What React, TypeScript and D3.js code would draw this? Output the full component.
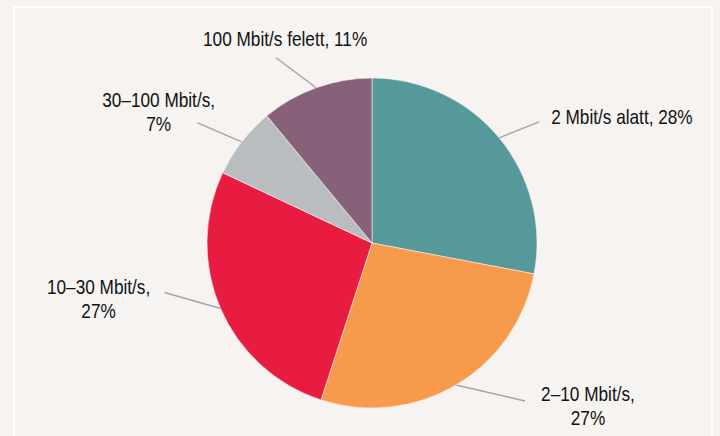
import * as d3 from "d3";
import { useRef, useEffect } from "react";

const categories = [
  "2 Mbit/s alatt",
  "2–10 Mbit/s",
  "10–30 Mbit/s",
  "30–100 Mbit/s",
  "100 Mbit/s felett",
];
const shares = [28, 27, 27, 7, 11];
const colors = ["#55999b", "#f79a4b", "#e81c40", "#b9bdbf", "#87607a"];

// label layout: leader offset from slice edge, text lines, anchor
const leaderOffsets: [number, number][] = [
  [40, -16],
  [69, 16],
  [-56, -16],
  [-44, -19],
  [-40, -30],
];
const labelLines: string[][] = [
  [`${categories[0]}, ${shares[0]}%`],
  [`${categories[1]},`, `${shares[1]}%`],
  [`${categories[2]},`, `${shares[2]}%`],
  [`${categories[3]},`, `${shares[3]}%`],
  [`${categories[4]}, ${shares[4]}%`],
];
const labelShift: [number, number, string][] = [
  [12, 2, "start"],
  [63, 0, "middle"],
  [-66, 1, "middle"],
  [-39, -16, "middle"],
  [9, -12, "middle"],
];

export default function App() {
  const width = 720;
  const height = 436;
  const cx = 372;
  const cy = 243;
  const radius = 165;
  const ref = useRef(null);

  useEffect((): void => {
    if (!ref.current) return;
    const svg = d3.select(ref.current);
    svg.selectAll("*").remove();
    svg.attr("width", width).attr("height", height);

    svg
      .append("rect")
      .attr("width", width)
      .attr("height", height)
      .attr("fill", "#f6f3f0");

    // white frame
    svg
      .append("rect")
      .attr("x", 14)
      .attr("y", 7)
      .attr("width", 698)
      .attr("height", 450)
      .attr("fill", "none")
      .attr("stroke", "#ffffff")
      .attr("stroke-width", 2);

    const pie = d3
      .pie<number>()
      .sort(null)
      .value((d) => d);
    const arcs = pie(shares);

    const arc = d3
      .arc<d3.PieArcDatum<number>>()
      .innerRadius(0)
      .outerRadius(radius);
    const edgeArc = d3
      .arc<d3.PieArcDatum<number>>()
      .innerRadius(radius)
      .outerRadius(radius);

    const g = svg.append("g").attr("transform", `translate(${cx},${cy})`);

    // leader lines
    g.selectAll(".leader")
      .data(arcs)
      .enter()
      .append("line")
      .attr("class", "leader")
      .attr("x1", (d) => edgeArc.centroid(d)[0])
      .attr("y1", (d) => edgeArc.centroid(d)[1])
      .attr("x2", (d, i) => edgeArc.centroid(d)[0] + leaderOffsets[i][0])
      .attr("y2", (d, i) => edgeArc.centroid(d)[1] + leaderOffsets[i][1])
      .attr("stroke", "#a3a5a6")
      .attr("stroke-width", 1.5);

    g.selectAll(".slice")
      .data(arcs)
      .enter()
      .append("path")
      .attr("class", "slice")
      .attr("d", arc)
      .attr("fill", (_, i) => colors[i])
      .attr("stroke", "#f6f3f0")
      .attr("stroke-width", 0.6);

    // labels
    arcs.forEach((d, i) => {
      const [ex, ey] = edgeArc.centroid(d);
      const x = ex + leaderOffsets[i][0] + labelShift[i][0];
      const y = ey + leaderOffsets[i][1] + labelShift[i][1];
      const t = g
        .append("text")
        .attr("transform", `translate(${x},${y}) scale(0.82,1)`)
        .attr("text-anchor", labelShift[i][2])
        .attr("font-family", "'Liberation Sans', Arial, sans-serif")
        .attr("font-size", 21)
        .attr("fill", "#111111");
      labelLines[i].forEach((line, j) => {
        t.append("tspan")
          .attr("x", 0)
          .attr("y", j * 24)
          .text(line);
      });
    });
  }, []);

  return (
    <div style={{ position: "fixed", left: 0, top: 0 }}>
      <svg ref={ref} style={{ display: "block" }} />
    </div>
  );
}
